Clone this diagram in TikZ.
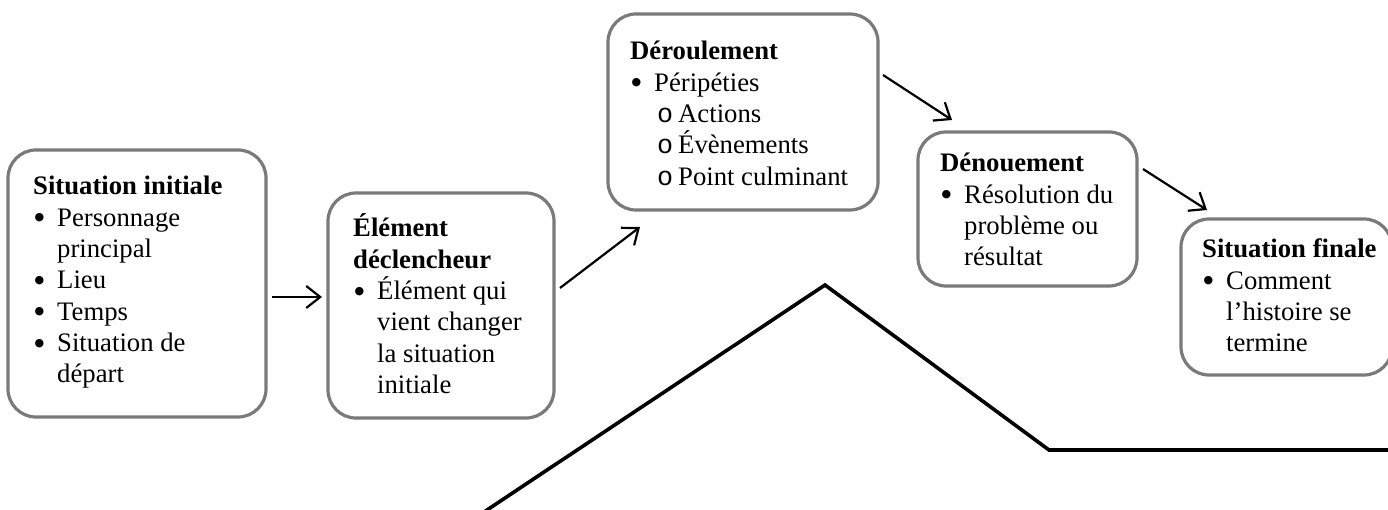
\documentclass[tikz,border=0pt]{standalone}
\usepackage{fontspec}
\setmainfont{Liberation Serif}
\newfontfamily\monofont{Liberation Mono}
\newfontfamily\symfont{DejaVu Sans}
\usetikzlibrary{arrows.meta}
\newcommand\bul{\makebox[24bp][l]{\hspace{1.5bp}\raisebox{5.5bp}{\fontsize{11bp}{11bp}\symfont ●}}}
\newcommand\ind{\hspace*{24bp}}
\newcommand\subb{\hspace*{27bp}\makebox[21bp][l]{\monofont o}}
\newcommand\boxtext[1]{\parbox[t]{320bp}{\fontsize{26.7bp}{31.3bp}\selectfont #1}}
\begin{document}
\begin{tikzpicture}[x=1bp,y=-1bp,
  stage/.style={draw=black!52,line width=3.2bp,rounded corners=28bp},
  txt/.style={anchor=base west,inner sep=0pt,text=black},
  link/.style={line width=2.2bp,-{Straight Barb[length=14bp,width=22bp,line width=2.2bp]}},
  curve/.style={line width=3.6bp,line join=miter}]
\useasboundingbox (0,0) rectangle (1388,510);
\clip (0,0) rectangle (1388,510);
% boxes
\draw[stage] (8,150) rectangle (266,417);
\node[inner sep=0pt] (b1) at (137,283.5) {};
\draw[stage] (328,193) rectangle (554,418);
\node[inner sep=0pt] (b2) at (441,305.5) {};
\draw[stage] (608,14) rectangle (878,210);
\node[inner sep=0pt] (b3) at (743,112) {};
\draw[stage] (918,132) rectangle (1137,286);
\node[inner sep=0pt] (b4) at (1027.5,209) {};
\draw[stage] (1181,219) rectangle (1392,375);
\node[inner sep=0pt] (b5) at (1286,297) {};
% texts
\node[txt] (t1) at (33,195) {\boxtext{\textbf{Situation initiale}\\
  \bul Personnage\\ \ind principal\\ \bul Lieu\\ \bul Temps\\
  \bul Situation de\\ \ind départ}};
\node[txt] (t2) at (353,237) {\boxtext{\textbf{Élément}\\ \textbf{déclencheur}\\
  \bul Élément qui\\ \ind vient changer\\ \ind la situation\\ \ind initiale}};
\node[txt] (t3) at (630,60) {\boxtext{\textbf{Déroulement}\\
  \bul Péripéties\\ \subb Actions\\ \subb Évènements\\ \subb Point culminant}};
\node[txt] (t4) at (940,172) {\boxtext{\textbf{Dénouement}\\
  \bul Résolution du\\ \ind problème ou\\ \ind résultat}};
\node[txt] (t5) at (1202,258) {\boxtext{\textbf{Situation finale}\\
  \bul Comment\\ \ind l’histoire se\\ \ind termine}};
% arrows
\coordinate (a1s) at (272,297); \coordinate (a1e) at (322,297);
\coordinate (a2s) at (560,288); \coordinate (a2e) at (640,227);
\coordinate (a3s) at (883,75);  \coordinate (a3e) at (952,120);
\coordinate (a4s) at (1143,169); \coordinate (a4e) at (1207,210);
\draw[link] (a1s) -- (a1e);
\draw[link] (a2s) -- (a2e);
\draw[link] (a3s) -- (a3e);
\draw[link] (a4s) -- (a4e);
% plot line
\coordinate (m0) at (484,512);
\coordinate (m1) at (825,285);
\coordinate (m2) at (1049,450);
\coordinate (m3) at (1390,450);
\draw[curve] (m0) -- (m1) -- (m2) -- (m3);
\end{tikzpicture}
\end{document}
